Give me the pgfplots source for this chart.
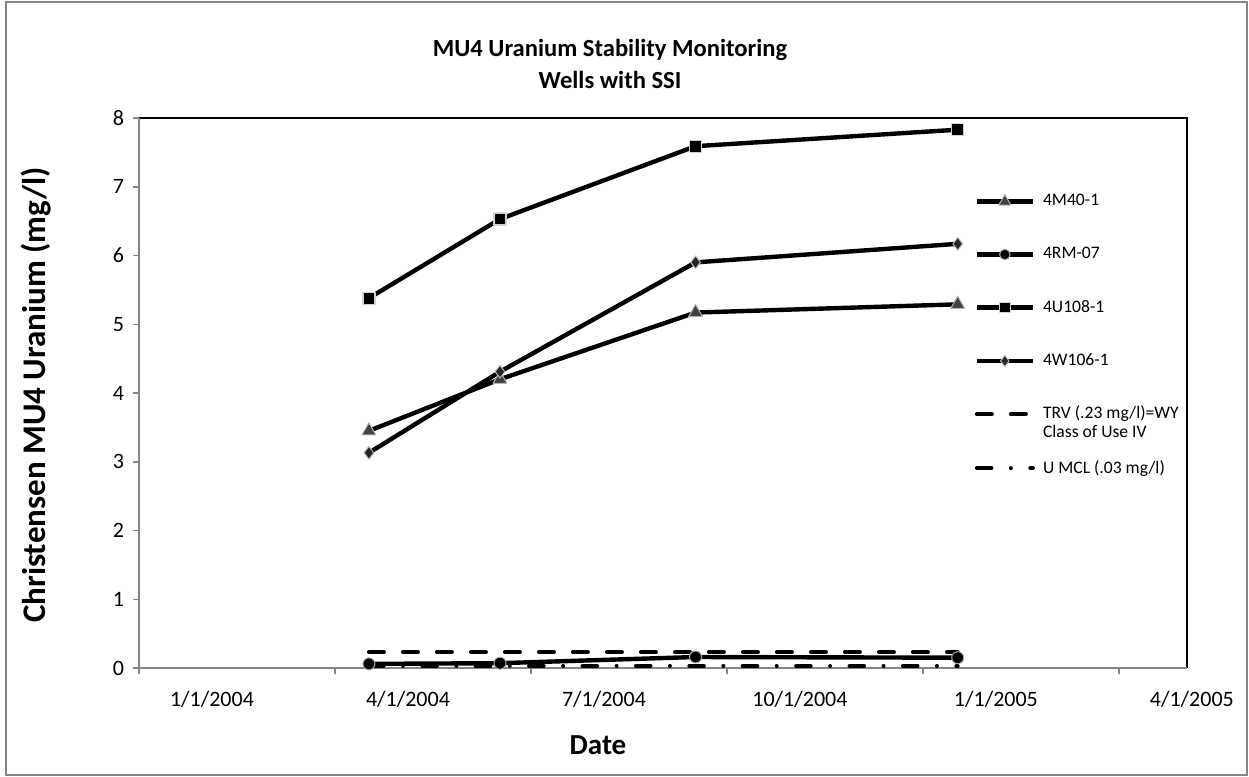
\documentclass[border=0pt]{standalone}
\usepackage{fontspec}
\setmainfont{Carlito}
\usepackage{pgfplots}
\pgfplotsset{compat=1.18}
\definecolor{axgray}{RGB}{134,134,134}
\begin{document}
\begin{tikzpicture}[x=1pt,y=1pt]
\useasboundingbox (0pt,0pt) rectangle (624.5pt,-388.5pt);
\draw[axgray, line width=0.8pt] (3pt,-1pt) rectangle (623.5pt,-387.5pt);
\node[font=\bfseries\fontsize{12.3}{16}\selectfont, align=center] at (305pt,-32pt) {MU4 Uranium Stability Monitoring\\Wells with SSI};
\node[font=\bfseries\fontsize{16.5}{19}\selectfont, rotate=90] at (18pt,-197.5pt) {Christensen MU4 Uranium (mg/l)};
\node[font=\bfseries\fontsize{14.5}{17}\selectfont] at (299pt,-372.5pt) {Date};
\begin{axis}[at={(69.5pt,-334pt)}, anchor=south west, scale only axis, width=524pt, height=275pt,
 xmin=-34, xmax=453.7, ymin=0, ymax=8,
 xtick={-34,57.2,148.4,239.6,330.8,422},
 xticklabels={1/1/2004,4/1/2004,7/1/2004,10/1/2004,1/1/2005,4/1/2005},
 ytick={0,1,2,3,4,5,6,7,8},
 xticklabel style={xshift=36.5pt, yshift=-5pt, font=\fontsize{11}{12}\selectfont},
 yticklabel style={font=\fontsize{11}{12}\selectfont, xshift=-1pt},
 /pgf/number format/assume math mode=true,
 tick align=outside, major tick length=3pt, tick style={axgray, line width=0.75pt},
 xtick pos=left, ytick pos=left,
 axis line style={draw=none},
 clip=false,
 legend style={at={(0.797,0.869)}, anchor=north west, draw=none, fill=none, inner sep=0pt,
   font=\fontsize{8.8}{10}\selectfont, row sep=15.2pt, column sep=2pt, nodes={inner sep=2pt}},
 legend cell align=left,
 legend image code/.code={\draw[mark repeat=2,mark phase=2,#1,every mark/.append style={scale=0.88}] plot coordinates {(0pt,0pt) (14pt,0pt) (28pt,0pt)};},
]
\draw[black, line width=0.7pt] (rel axis cs:0,1) -- (rel axis cs:1,1) -- (rel axis cs:1,0);
\draw[axgray, line width=0.75pt] (rel axis cs:0,1) -- (rel axis cs:0,0) -- (rel axis cs:1,0);

\addplot[line width=2.2pt, black, line join=round, mark=triangle*, mark size=4pt, mark options={solid, fill=black!75, draw=gray!60, line width=0.5pt}]
  coordinates {(73,3.45) (134,4.2) (225,5.17) (347,5.29)};
\addlegendentry{4M40-1}
\addplot[line width=2.2pt, black, line join=round, mark=*, mark size=3pt, mark options={solid, fill=black, draw=gray!70, line width=0.5pt}]
  coordinates {(73,0.06) (134,0.07) (225,0.16) (347,0.15)};
\addlegendentry{4RM-07}
\addplot[line width=2.2pt, black, line join=round, mark=square*, mark size=3pt, mark options={solid, fill=black, draw=gray!35, line width=0.6pt}]
  coordinates {(73,5.38) (134,6.53) (225,7.59) (347,7.83)};
\addlegendentry{4U108-1}
\addplot[line width=2.2pt, black, line join=round, mark=diamond*, mark size=3.2pt, mark options={solid, fill=black!85, draw=gray!55, line width=0.5pt}]
  coordinates {(73,3.13) (134,4.31) (225,5.9) (347,6.17)};
\addlegendentry{4W106-1}
\addplot[line width=2pt, black, line cap=round, dash pattern=on 7.5pt off 9.5pt]
  coordinates {(73,0.23) (134,0.23) (225,0.23) (347,0.23)};
\addlegendentry{\raisebox{0pt}[6pt][0pt]{\def\arraystretch{0.95}\begin{tabular}[t]{@{}l@{}}TRV (.23 mg/l)=WY\\Class of Use IV\end{tabular}}}
\addplot[line width=2pt, black, line cap=round, dash pattern=on 7.3pt off 9.7pt on 0pt off 9.7pt]
  coordinates {(73,0.03) (134,0.03) (225,0.03) (347,0.03)};
\addlegendentry{U MCL (.03 mg/l)}
\end{axis}
\end{tikzpicture}
\end{document}
